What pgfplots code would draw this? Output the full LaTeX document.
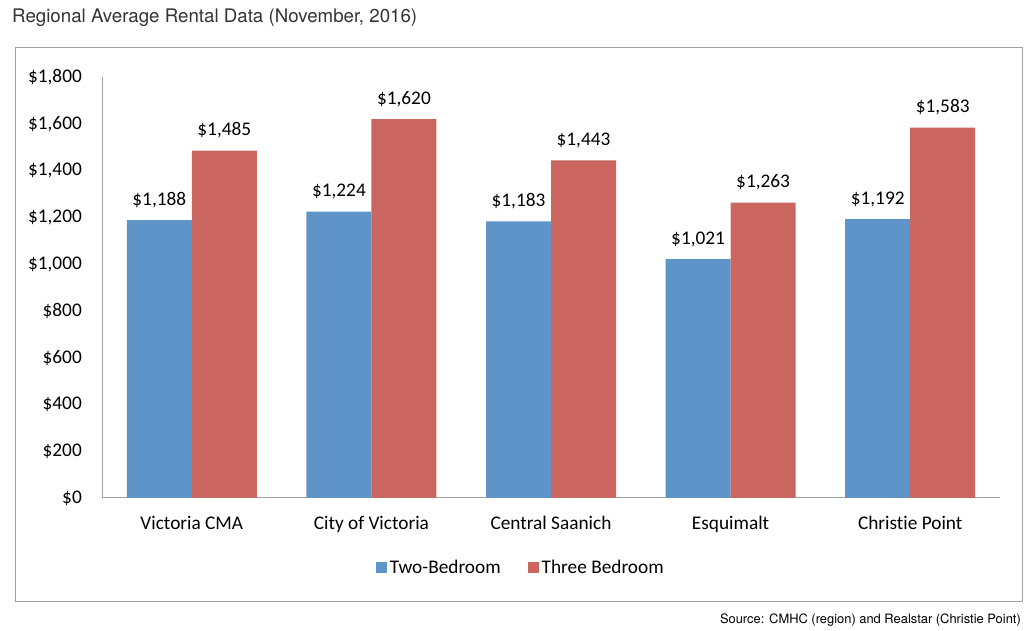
\documentclass[border=0pt]{standalone}
\usepackage{pgfplots}
\pgfplotsset{compat=1.18}
\usepackage{fontspec}
\setmainfont{Carlito}[Ligatures=NoCommon]
\newfontfamily\helv{TeX Gyre Heros}

\definecolor{twobed}{HTML}{5F94C9}
\definecolor{threebed}{HTML}{CB655F}
\definecolor{axisgray}{HTML}{A0A0A0}
\definecolor{titlegray}{HTML}{333333}

\pgfplotstableread{
x two three
0 1188 1485
1 1224 1620
2 1183 1443
3 1021 1263
4 1192 1583
}\rentdata

\begin{document}
\begin{tikzpicture}[x=1pt,y=1pt]
% page frame
\path[use as bounding box] (0,0) rectangle (1036,631);
% outer chart box
\draw[axisgray, line width=1pt] (15,29) rectangle (1022,583);
% title and source
\node[anchor=base west, inner sep=0, font=\helv\fontsize{18.7}{21}\selectfont, text=titlegray]
  at (12,608) {Regional Average Rental Data (November, 2016)};
\node[anchor=base east, inner sep=0, font=\helv\fontsize{12.9}{15}\selectfont, text=black]
  at (1021,7) {Source: CMHC (region) and Realstar (Christie Point)};

\begin{axis}[
  at={(102pt,133pt)}, anchor=south west,
  scale only axis, width=898pt, height=421pt,
  ybar=0pt, bar width=65pt,
  xmin=-0.5, xmax=4.5,
  ymin=0, ymax=1800,
  xtick=data,
  xticklabels={Victoria CMA, City of Victoria, Central Saanich, Esquimalt, Christie Point},
  ytick={0,200,...,1800},
  axis x line*=bottom, axis y line*=left,
  axis line style={axisgray, line width=1pt, -},
  major tick length=0pt,
  font=\fontsize{19.3}{22}\selectfont,
  /pgf/number format/assume math mode=true,
  /pgf/number format/1000 sep={,},
  yticklabel={\$\pgfmathprintnumber{\tick}},
  yticklabel style={anchor=east, inner sep=0pt, xshift=-20pt},
  xticklabel style={anchor=base, inner sep=0pt, yshift=-32pt},
  nodes near coords={\$\pgfmathprintnumber{\pgfplotspointmeta}},
  nodes near coords style={anchor=base, inner sep=0pt, yshift=15pt, text=black},
  legend columns=2,
  legend style={draw=none, at={(0.467,-0.166)}, anchor=center,
    /tikz/every even column/.append style={column sep=25pt},
    nodes={inner sep=2.5pt}},
  legend image code/.code={\fill[#1] (0pt,-5.5pt) rectangle (11pt,5.5pt);},
  clip=false,
]
\addplot[fill=twobed, draw=none] table[x=x, y=two] {\rentdata};
\addplot[fill=threebed, draw=none] table[x=x, y=three] {\rentdata};
\legend{Two-Bedroom, Three Bedroom}
\end{axis}
\end{tikzpicture}
\end{document}
